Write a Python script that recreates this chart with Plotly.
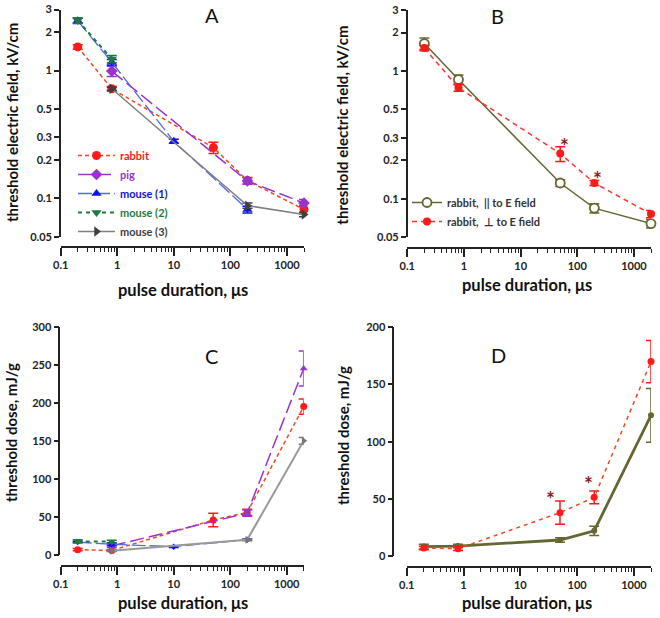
import math
import plotly.graph_objects as go

# ---------------- data ----------------
# Panel A: threshold electric field (kV/cm) vs pulse duration (us)
rabbit_x = [0.2, 0.8, 50, 200, 2000]
rabbit_E = [1.53, 0.72, 0.25, 0.138, 0.082]
rabbit_E_err = [0.06, 0.03, 0.025, 0.008, 0.006]

pig_x = [0.8, 200, 2000]
pig_E = [0.99, 0.137, 0.092]
pig_E_err = [0.09, 0.008, 0.006]

mouse1_x = [0.2, 0.8, 10, 200]
mouse1_E = [2.45, 1.16, 0.28, 0.082]
mouse1_E_err = [0.12, 0.06, 0.01, 0.005]

mouse2_x = [0.2, 0.8]
mouse2_E = [2.46, 1.23]
mouse2_E_err = [0.12, 0.08]

mouse3_x = [0.8, 200, 2000]
mouse3_E = [0.72, 0.088, 0.075]
mouse3_E_err = [0.02, 0.004, 0.003]

# Panel B: rabbit, parallel vs perpendicular to E field
orient_x = [0.2, 0.8, 50, 200, 2000]
par_E = [1.64, 0.857, 0.133, 0.0846, 0.064]
par_E_err = [0.17, 0.075, 0.008, 0.007, 0.005]
perp_E = [1.51, 0.74, 0.226, 0.133, 0.076]
perp_E_err = [0.07, 0.045, 0.03, 0.006, 0.005]
signif_idx = [2, 3]   # points marked with *

# Panel C: threshold dose (mJ/g)
rabbit_D = [7, 6, 46, 56, 195]
rabbit_D_err = [1.5, 1, 9, 4, 10]
pig_D = [12, 55, 245]
pig_D_err = [2, 4, 23]
mouse1_D = [17, 14, 11, 20]
mouse1_D_err = [1, 2, 1, 1]
mouse2_D = [18, 17.5]
mouse2_D_err = [2, 2]
mouse3_D = [5.5, 20, 150]
mouse3_D_err = [1, 1, 4.5]

# Panel D: rabbit dose, parallel vs perpendicular
par_D = [8.2, 8.7, 14, 22, 123]
par_D_err = [2, 1.5, 2, 4, 23.5]
perp_D = [7, 6.4, 37.9, 51.3, 170]
perp_D_err = [1.5, 1.5, 10.2, 5.5, 18.5]

x_tick_vals = [0.1, 1, 10, 100, 1000]
x_tick_text = ["0.1", "1", "10", "100", "1000"]
x_minor_vals = [m * d for d in (0.1, 1, 10, 100) for m in range(2, 10)] + [2000]
yE_tick_vals = [0.05, 0.1, 0.2, 0.3, 0.5, 1, 2, 3]
yE_tick_text = ["0.05", "0.1", "0.2", "0.3", "0.5", "1", "2", "3"]

# ---------------- style ----------------
W, H = 660, 618
FONT = "Lato, 'Open Sans', sans-serif"
AX = "#222222"
RED = "#ff1a1a"
RED_LINE = "#ee4a22"
PURPLE = "#9933cc"
BLUE_LINE = "#5566e6"
BLUE = "#1111ee"
GREEN = "#1e7a3e"
GRAY_LINE = "#808080"
GRAY = "#3f3f3f"
OLIVE = "#666633"
STAR = "#8b1a1a"


def px_x(p):
    return p / W


def px_y(p):
    return 1 - p / H


fig = go.Figure()


def add(xs, ys, errs, axis, name, lcolor, mcolor, dash, symbol, size,
        lw=1.5, legend=None, ecolor=None, mline=None):
    xa = "x" if axis == 1 else f"x{axis}"
    ya = "y" if axis == 1 else f"y{axis}"
    marker = dict(color=mcolor, size=size, symbol=symbol)
    if mline is not None:
        marker["line"] = dict(color=mline, width=1.8)
        marker["color"] = "white"
    fig.add_trace(go.Scatter(
        x=xs, y=ys, xaxis=xa, yaxis=ya, mode="lines+markers",
        name=name, showlegend=legend is not None,
        legend=legend if legend else "legend",
        line=dict(color=lcolor, width=lw, dash=dash),
        marker=marker,
        error_y=dict(type="data", array=errs, visible=True,
                     color=ecolor or mcolor, thickness=1.5, width=5),
        cliponaxis=False,
    ))


def lab(text, color):
    return f'<span style="color:{color}">{text}</span>'


# Panel A
add(rabbit_x, rabbit_E, rabbit_E_err, 1, lab("rabbit", RED), RED_LINE, RED,
    "4px,3px", "circle", 9, legend="legend")
add(pig_x, pig_E, pig_E_err, 1, lab("pig", PURPLE), PURPLE, PURPLE,
    "14px,5px", "diamond", 9, legend="legend")
add(mouse1_x, mouse1_E, mouse1_E_err, 1, lab("mouse (1)", BLUE), BLUE_LINE, BLUE,
    "14px,4px", "triangle-up", 9, legend="legend", lw=1.3)
add(mouse2_x, mouse2_E, mouse2_E_err, 1, lab("mouse (2)", GREEN), GREEN, GREEN,
    "4px,4px", "triangle-down", 9, legend="legend", lw=2)
add(mouse3_x, mouse3_E, mouse3_E_err, 1, lab("mouse (3)", GRAY), GRAY_LINE, GRAY,
    "solid", "triangle-right", 9, legend="legend")

# Panel B
add(orient_x, par_E, par_E_err, 2, "rabbit,  || to E field", OLIVE, OLIVE,
    "solid", "circle", 9, legend="legend2", mline=OLIVE)
add(orient_x, perp_E, perp_E_err, 2, "rabbit,  \u22a5 to E field", "#ff3333", RED,
    "5px,4px", "circle", 8, legend="legend2")

# Panel C
add(rabbit_x, rabbit_D, rabbit_D_err, 3, "rabbit", RED_LINE, RED, "4px,3px", "circle", 7)
add(pig_x, pig_D, pig_D_err, 3, "pig", PURPLE, PURPLE, "14px,5px", "triangle-up", 7)
add(mouse1_x, mouse1_D, mouse1_D_err, 3, "mouse (1)", BLUE_LINE, BLUE, "14px,4px", "diamond", 5, lw=1.3)
add(mouse2_x, mouse2_D, mouse2_D_err, 3, "mouse (2)", GREEN, GREEN, "4px,4px", "triangle-down", 7, lw=2)
add(mouse3_x, mouse3_D, mouse3_D_err, 3, "mouse (3)", "#999999", "#777777", "solid", "triangle-right", 7, lw=2)

# Panel D
add(orient_x, par_D, par_D_err, 4, "par", OLIVE, OLIVE, "solid", "circle", 6, lw=2.8)
add(orient_x, perp_D, perp_D_err, 4, "perp", RED_LINE, RED, "4px,4px", "circle", 7)

# ---------------- axes ----------------
tickfont = dict(family=FONT, size=11, color=AX, weight="bold")


def xaxis(dom, pos):
    return dict(type="log", range=[-1, math.log10(2000)], domain=dom,
                anchor="free", position=pos, showline=True, linecolor=AX,
                linewidth=1.6, ticks="outside", ticklen=8, tickwidth=1.6,
                tickcolor=AX, tickmode="array", tickvals=x_tick_vals,
                ticktext=x_tick_text, tickfont=tickfont, showgrid=False,
                zeroline=False, automargin=False,
                minor=dict(tickmode="array", tickvals=x_minor_vals,
                           ticks="outside", ticklen=4, tickwidth=1.2,
                           tickcolor=AX, showgrid=False))


def yaxis_log(dom, pos):
    return dict(type="log", range=[math.log10(0.05), math.log10(3)], domain=dom,
                anchor="free", position=pos, showline=True, linecolor=AX,
                linewidth=1.6, ticks="outside", ticklen=5, tickwidth=1.6,
                tickcolor=AX, tickmode="array", tickvals=yE_tick_vals,
                ticktext=yE_tick_text, tickfont=tickfont, showgrid=False,
                zeroline=False, automargin=False)


def yaxis_lin(dom, pos, top):
    return dict(type="linear", range=[0, top], domain=dom, anchor="free",
                position=pos, showline=True, linecolor=AX, linewidth=1.6,
                ticks="outside", ticklen=5, tickwidth=1.6, tickcolor=AX,
                dtick=50, tick0=0, tickfont=tickfont, showgrid=False,
                zeroline=False, automargin=False)


layout = dict(
    width=W, height=H, margin=dict(l=0, r=0, t=0, b=0, autoexpand=False),
    paper_bgcolor="white", plot_bgcolor="white",
    font=dict(family=FONT, color=AX),
    xaxis=xaxis([px_x(60.7), px_x(304)], px_y(247)),
    yaxis=yaxis_log([px_y(237), px_y(9.5)], px_x(60)),
    xaxis2=xaxis([px_x(407.3), px_x(651)], px_y(247.7)),
    yaxis2=yaxis_log([px_y(237.3), px_y(10)], px_x(406.7)),
    xaxis3=xaxis([px_x(60.7), px_x(303.7)], px_y(566)),
    yaxis3=yaxis_lin([px_y(555), px_y(326.7)], px_x(59.3), 300),
    xaxis4=xaxis([px_x(406.7), px_x(651)], px_y(566.7)),
    yaxis4=yaxis_lin([px_y(556), px_y(327.3)], px_x(393.3), 200),
    legend=dict(x=px_x(73), y=px_y(141), xanchor="left", yanchor="top",
                bgcolor="rgba(0,0,0,0)", itemwidth=37, tracegroupgap=0,
                font=dict(family=FONT, size=11, weight="bold", color=AX)),
    legend2=dict(x=px_x(407), y=px_y(188), xanchor="left", yanchor="top",
                 bgcolor="rgba(0,0,0,0)", itemwidth=30, tracegroupgap=0,
                 font=dict(family=FONT, size=11, weight="bold", color="#333333")),
)
fig.update_layout(**layout)

ann = []
for letter, x, y in [("A", 211.7, 1), ("B", 497.7, 1.5), ("C", 211.7, 342), ("D", 498.3, 340.5)]:
    ann.append(dict(text=letter, x=px_x(x), y=px_y(y), xref="paper", yref="paper",
                    xanchor="center", yanchor="top",
                    showarrow=False, font=dict(family=FONT, size=20, color="#111")))
for txt, x, y in [("threshold electric field, kV/cm", 12, 123),
                  ("threshold electric field, kV/cm", 341.7, 125),
                  ("threshold dose, mJ/g", 11, 433),
                  ("threshold dose, mJ/g", 343, 436)]:
    ann.append(dict(text=txt, x=px_x(x), y=px_y(y), xref="paper", yref="paper",
                    textangle=-90, showarrow=False, xanchor="center", yanchor="middle",
                    font=dict(family=FONT, size=15, color="#111", weight="bold")))
for x, y in [(183, 290), (527, 285), (183, 603), (527, 603)]:
    ann.append(dict(text="pulse duration, \u03bcs", x=px_x(x), y=px_y(y),
                    xref="paper", yref="paper", showarrow=False,
                    xanchor="center", yanchor="middle",
                    font=dict(family=FONT, size=16.5, color="#111", weight="bold")))
# significance asterisks, placed relative to the data points
for i, (dx, dy) in zip(signif_idx, [(4, 1), (3, 2)]):
    ann.append(dict(text="*", x=math.log10(orient_x[i]),
                    y=math.log10(perp_E[i] + perp_E_err[i]), xref="x2", yref="y2",
                    showarrow=False, xshift=dx, yshift=dy,
                    xanchor="center", yanchor="middle",
                    font=dict(family=FONT, size=21, color=STAR, weight="bold")))
for i, (dx, dy) in zip(signif_idx, [(-10, 3), (-6, 8)]):
    ann.append(dict(text="*", x=math.log10(orient_x[i]),
                    y=perp_D[i] + perp_D_err[i], xref="x4", yref="y4",
                    showarrow=False, xshift=dx, yshift=dy,
                    xanchor="center", yanchor="middle",
                    font=dict(family=FONT, size=21, color=STAR, weight="bold")))
fig.update_layout(annotations=ann)

fig.write_html("out.html", config={"displayModeBar": False},
               post_script="document.body.style.margin='0px';")
